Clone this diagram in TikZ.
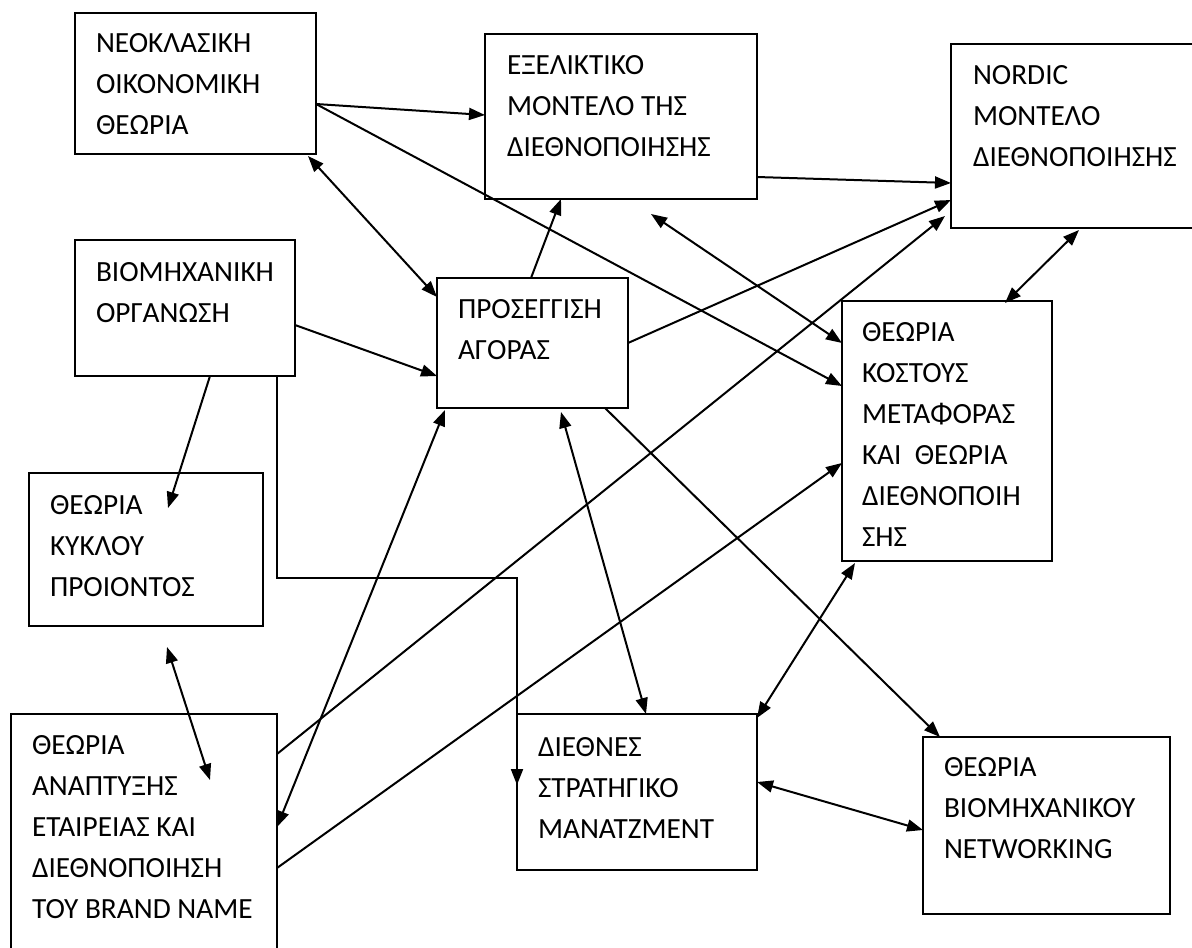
\documentclass[tikz,border=0pt]{standalone}
\usepackage{fontspec}
\setmainfont{Carlito}
\usetikzlibrary{arrows.meta}
\tikzset{
  box/.style={draw, line width=1.7pt, inner sep=0pt, outer sep=0pt, anchor=north west},
  txt/.style={anchor=north west, inner sep=0pt, outer sep=0pt, align=left, font=\fontsize{29.3}{41}\selectfont},
  arr/.style={line width=2pt, -{Triangle[length=16pt,width=12pt]}},
  darr/.style={line width=2pt, {Triangle[length=16pt,width=12pt]}-{Triangle[length=16pt,width=12pt]}}
}
\begin{document}
\begin{tikzpicture}[x=1pt,y=-1pt]
\useasboundingbox (0,0) rectangle (1192,948);
\clip (0,0) rectangle (1192,948);
% boxes
\node[box, minimum width=241pt, minimum height=141pt] (A) at (75,13) {};
\node[box, minimum width=272pt, minimum height=165pt] (B) at (485,34) {};
\node[box, minimum width=245pt, minimum height=184pt] (C) at (951,44) {};
\node[box, minimum width=220pt, minimum height=136pt] (D) at (75,240) {};
\node[box, minimum width=191pt, minimum height=130pt] (E) at (437,278) {};
\node[box, minimum width=210pt, minimum height=260pt] (F) at (842,301) {};
\node[box, minimum width=234pt, minimum height=153pt] (G) at (29,473) {};
\node[box, minimum width=266pt, minimum height=241pt] (H) at (11,714) {};
\node[box, minimum width=240pt, minimum height=156pt] (I) at (517,714) {};
\node[box, minimum width=247pt, minimum height=177pt] (J) at (923,737) {};
% texts
\node[txt] (At) at (96,33) {ΝΕΟΚΛΑΣΙΚΗ\\ΟΙΚΟΝΟΜΙΚΗ\\ΘΕΩΡΙΑ};
\node[txt] (Bt) at (507,55) {ΕΞΕΛΙΚΤΙΚΟ\\ΜΟΝΤΕΛΟ ΤΗΣ\\ΔΙΕΘΝΟΠΟΙΗΣΗΣ};
\node[txt] (Ct) at (973,65) {NORDIC\\ΜΟΝΤΕΛΟ\\ΔΙΕΘΝΟΠΟΙΗΣΗΣ};
\node[txt] (Dt) at (96,262) {ΒΙΟΜΗΧΑΝΙΚΗ\\ΟΡΓΑΝΩΣΗ};
\node[txt] (Et) at (458,299) {ΠΡΟΣΕΓΓΙΣΗ\\ΑΓΟΡΑΣ};
\node[txt] (Ft) at (862,322) {ΘΕΩΡΙΑ\\ΚΟΣΤΟΥΣ\\ΜΕΤΑΦΟΡΑΣ\\ΚΑΙ~ ΘΕΩΡΙΑ\\ΔΙΕΘΝΟΠΟΙΗ\\ΣΗΣ};
\node[txt] (Gt) at (50,495) {ΘΕΩΡΙΑ\\ΚΥΚΛΟΥ\\ΠΡΟΙΟΝΤΟΣ};
\node[txt] (Ht) at (32,735) {ΘΕΩΡΙΑ\\ΑΝΑΠΤΥΞΗΣ\\ΕΤΑΙΡΕΙΑΣ ΚΑΙ\\ΔΙΕΘΝΟΠΟΙΗΣΗ\\ΤΟΥ BRAND NAME};
\node[txt] (It) at (538,737) {ΔΙΕΘΝΕΣ\\ΣΤΡΑΤΗΓΙΚΟ\\ΜΑΝΑΤΖΜΕΝΤ};
\node[txt] (Jt) at (944,757) {ΘΕΩΡΙΑ\\ΒΙΟΜΗΧΑΝΙΚΟΥ\\NETWORKING};
% connectors
\draw[arr] ([yshift=-20.5pt]A.east) -- ([yshift=1.5pt]B.west);
\draw[arr] ([yshift=-20.5pt]A.east) -- ([yshift=45pt]F.west);
\draw[darr] ([xshift=-8pt,yshift=-2pt]A.south east) -- ([yshift=46pt]E.west);
\draw[arr] ([xshift=-1.5pt]E.north) -- ([xshift=-60pt]B.south);
\draw[arr] ([yshift=-60.5pt]B.east) -- ([yshift=-47pt]C.west);
\draw[darr] ([xshift=30pt,yshift=-15pt]B.south) -- ([yshift=88pt]F.west);
\draw[arr] (E.east) -- ([yshift=-64pt]C.west);
\draw[arr] ([yshift=80.5pt]H.east) -- ([xshift=-6pt,yshift=-80pt]C.west);
\draw[darr] ([xshift=5.5pt,yshift=-2pt]C.south) -- ([xshift=58pt,yshift=-2pt]F.north);
\draw[arr] ([yshift=-17pt]D.east) -- ([yshift=-33pt]E.west);
\draw[arr] ([xshift=25pt]D.south) -- ([xshift=22pt,yshift=-35pt]G.north);
\draw[arr] ([xshift=92pt]D.south) -- ++(0,202) -| ([yshift=7pt]I.west);
\draw[darr] ([xshift=21pt,yshift=-21pt]G.south) -- ([xshift=66pt,yshift=-66pt]H.north);
\draw[darr] ([xshift=-87.5pt,yshift=-2pt]E.south) -- ([yshift=7.5pt]H.east);
\draw[arr] ([yshift=-33.5pt]H.east) -- ([yshift=-32pt]F.west);
\draw[darr] ([xshift=28.5pt,yshift=-4pt]E.south) -- ([xshift=9pt]I.north);
\draw[arr] ([xshift=72.5pt]E.south) -- ([xshift=-106.5pt]J.north);
\draw[darr] ([xshift=-92pt,yshift=-2pt]F.south) -- ([yshift=-4pt]I.north east);
\draw[darr] ([yshift=10pt]I.east) -- ([yshift=-4.5pt]J.west);
\end{tikzpicture}
\end{document}
